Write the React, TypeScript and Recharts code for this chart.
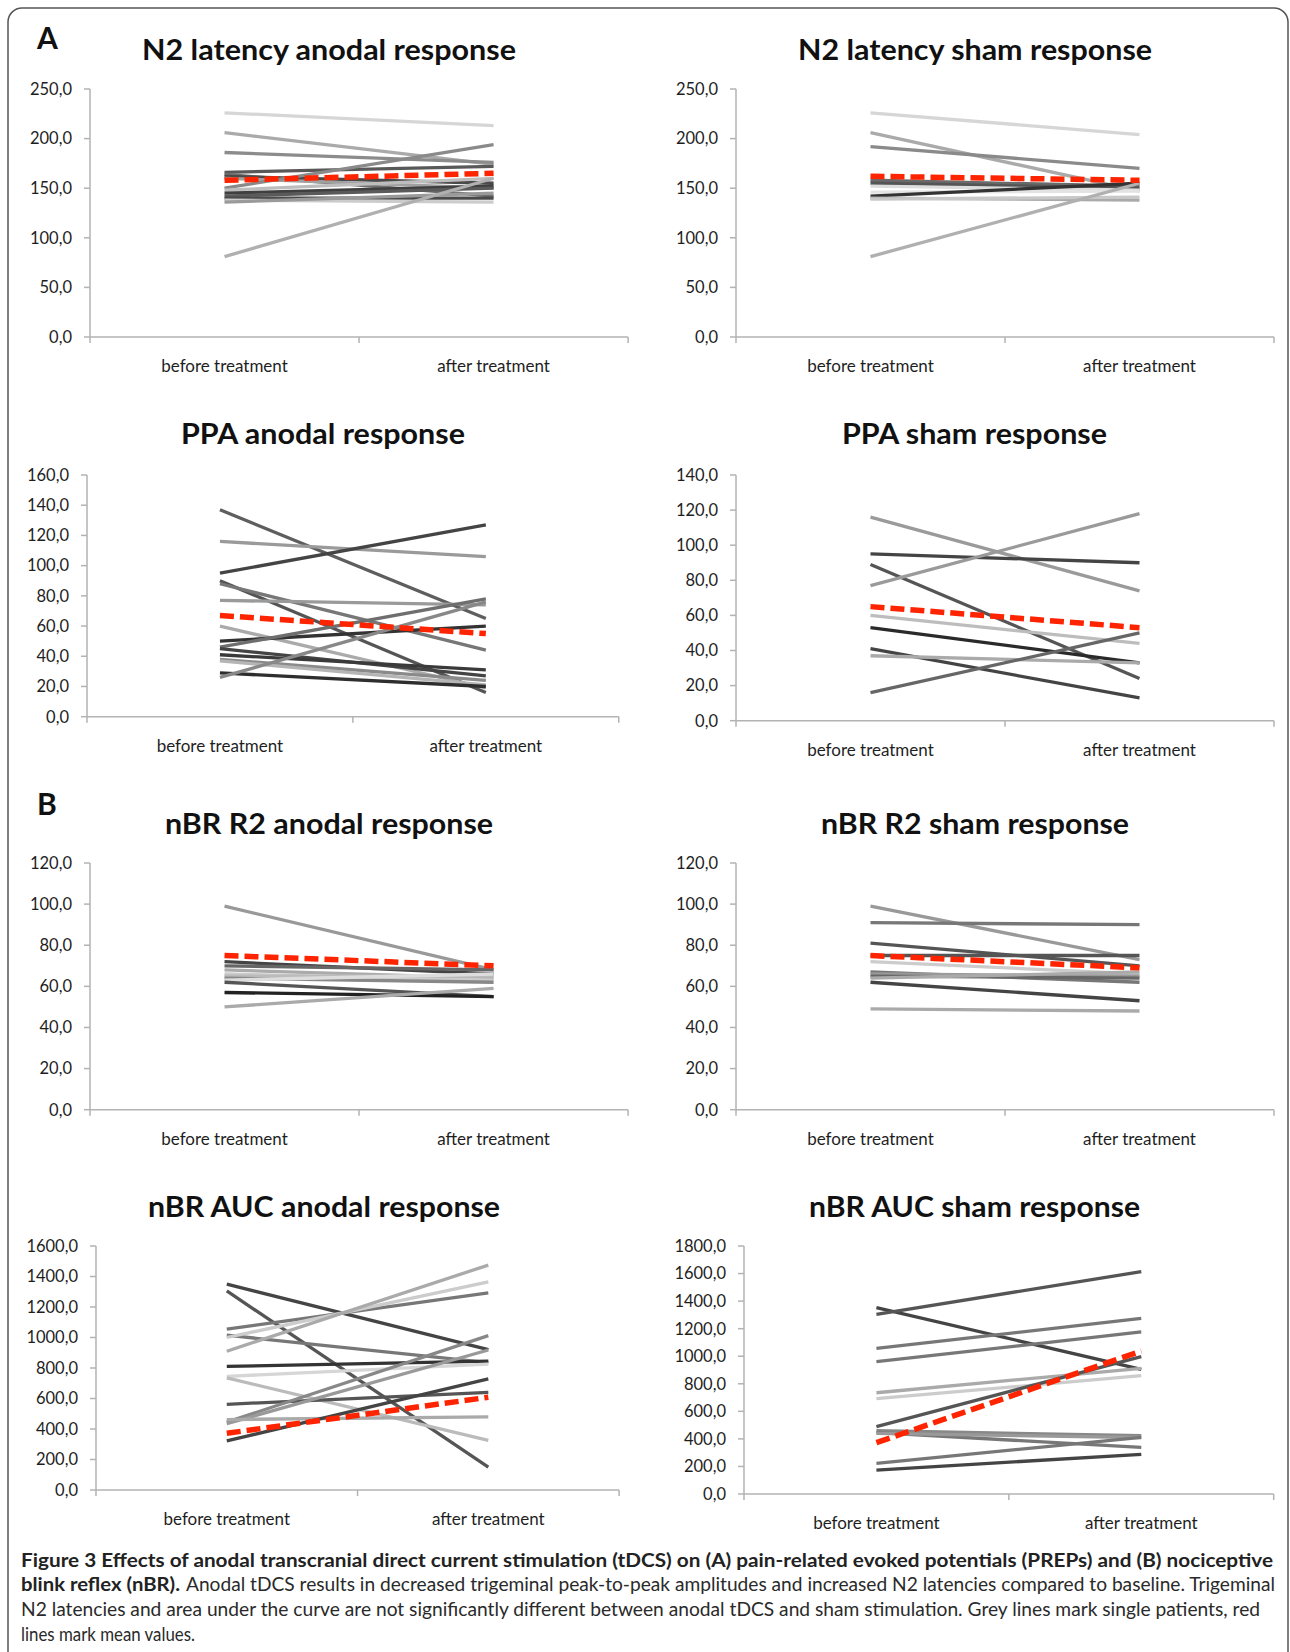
import React from 'react';
import { LineChart, Line, XAxis, YAxis } from 'recharts';

const FONT = "Lato, 'Open Sans', 'DejaVu Sans', sans-serif";
const AXIS = '#b3b3b3';
const RED = '#ff2400';

const CATEGORIES = ['before treatment', 'after treatment'];

// N2 latency anodal
const n2AnodalBefore = [226, 206, 186, 166, 164, 162, 160, 150, 148, 145, 142, 140, 138, 136, 81];
const n2AnodalAfter = [213, 174, 176, 172, 142, 155, 150, 194, 160, 152, 150, 140, 136, 145, 160];
const n2AnodalMean = [158, 165];
const n2AnodalTicks = [0, 50, 100, 150, 200, 250];

// N2 latency sham
const n2ShamBefore = [226, 206, 192, 158, 155, 152, 146, 142, 140, 139, 81];
const n2ShamAfter = [204, 147, 170, 152, 150, 148, 147, 155, 138, 141, 155];
const n2ShamMean = [162, 158];
const n2ShamTicks = [0, 50, 100, 150, 200, 250];

// PPA anodal
const ppaAnodalBefore = [137, 116, 95, 90, 88, 77, 60, 50, 46, 45, 41, 38, 37, 29, 26];
const ppaAnodalAfter = [65, 106, 127, 16, 44, 74, 19, 60, 78, 27, 31, 24, 21, 20, 76];
const ppaAnodalMean = [67, 55];
const ppaAnodalTicks = [0, 20, 40, 60, 80, 100, 120, 140, 160];

// PPA sham
const ppaShamBefore = [116, 95, 89, 77, 60, 53, 41, 37, 16];
const ppaShamAfter = [74, 90, 24, 118, 44, 33, 13, 33, 50];
const ppaShamMean = [65, 53];
const ppaShamTicks = [0, 20, 40, 60, 80, 100, 120, 140];

// nBR R2 anodal
const r2AnodalBefore = [99, 72, 70, 68, 66, 65, 64, 63, 62, 57, 50];
const r2AnodalAfter = [68, 66, 68, 64, 63, 65, 62, 66, 55, 55, 59];
const r2AnodalMean = [75, 70];
const r2AnodalTicks = [0, 20, 40, 60, 80, 100, 120];

// nBR R2 sham
const r2ShamBefore = [99, 91, 81, 75, 72, 67, 66, 65, 64, 62, 49];
const r2ShamAfter = [73, 90, 70, 75, 66, 62, 65, 64, 67, 53, 48];
const r2ShamMean = [75, 69];
const r2ShamTicks = [0, 20, 40, 60, 80, 100, 120];

// nBR AUC anodal
const aucAnodalBefore = [1350, 1305, 1055, 1015, 1000, 910, 810, 745, 735, 562, 445, 435, 462, 322];
const aucAnodalAfter = [920, 150, 1292, 835, 1365, 1475, 845, 825, 326, 640, 1012, 918, 480, 728];
const aucAnodalMean = [372, 608];
const aucAnodalTicks = [0, 200, 400, 600, 800, 1000, 1200, 1400, 1600];

// nBR AUC sham
const aucShamBefore = [1352, 1304, 1057, 960, 735, 692, 489, 460, 445, 440, 223, 174];
const aucShamAfter = [905, 1614, 1275, 1176, 912, 859, 997, 423, 339, 410, 411, 288];
const aucShamMean = [373, 1038];
const aucShamTicks = [0, 200, 400, 600, 800, 1000, 1200, 1400, 1600, 1800];

// line shades (style only)
const n2AnodalShades = ['#d6d6d6', '#aaaaaa', '#8c8c8c', '#595959', '#6e6e6e', '#4a4a4a', '#a0a0a0', '#8a8a8a', '#bdbdbd', '#3f3f3f', '#5a5a5a', '#4a4a4a', '#cccccc', '#9a9a9a', '#b0b0b0'];
const n2ShamShades = ['#d6d6d6', '#aaaaaa', '#8a8a8a', '#6a6a6a', '#555555', '#dddddd', '#e3e3e3', '#333333', '#aaaaaa', '#c8c8c8', '#b0b0b0'];
const ppaAnodalShades = ['#5e5e5e', '#9a9a9a', '#444444', '#555555', '#777777', '#9a9a9a', '#aaaaaa', '#333333', '#6e6e6e', '#444444', '#3a3a3a', '#8a8a8a', '#b5b5b5', '#2e2e2e', '#888888'];
const ppaShamShades = ['#9a9a9a', '#444444', '#555555', '#9a9a9a', '#bdbdbd', '#2a2a2a', '#444444', '#aaaaaa', '#666666'];
const r2AnodalShades = ['#999999', '#444444', '#666666', '#aaaaaa', '#cccccc', '#bbbbbb', '#888888', '#dddddd', '#555555', '#222222', '#aaaaaa'];
const r2ShamShades = ['#999999', '#777777', '#555555', '#555555', '#cccccc', '#777777', '#999999', '#666666', '#aaaaaa', '#444444', '#aaaaaa'];
const aucAnodalShades = ['#444444', '#555555', '#777777', '#777777', '#cccccc', '#aaaaaa', '#333333', '#d6d6d6', '#bbbbbb', '#555555', '#888888', '#999999', '#aaaaaa', '#444444'];
const aucShamShades = ['#444444', '#555555', '#777777', '#777777', '#aaaaaa', '#cccccc', '#555555', '#888888', '#777777', '#999999', '#777777', '#444444'];

const PANELS = [
  { title: 'N2 latency anodal response', before: n2AnodalBefore, after: n2AnodalAfter, mean: n2AnodalMean, ticks: n2AnodalTicks, shades: n2AnodalShades,
    box: { l: 89.6, r: 627.7, t: 89.3, b: 337.3 }, tb: { x1: 142, x2: 516, y: 60 } },
  { title: 'N2 latency sham response', before: n2ShamBefore, after: n2ShamAfter, mean: n2ShamMean, ticks: n2ShamTicks, shades: n2ShamShades,
    box: { l: 736, r: 1274, t: 89.3, b: 337.3 }, tb: { x1: 798, x2: 1152, y: 60 } },
  { title: 'PPA anodal response', before: ppaAnodalBefore, after: ppaAnodalAfter, mean: ppaAnodalMean, ticks: ppaAnodalTicks, shades: ppaAnodalShades,
    box: { l: 87.2, r: 619, t: 475, b: 716.7 }, tb: { x1: 181, x2: 465, y: 444 } },
  { title: 'PPA sham response', before: ppaShamBefore, after: ppaShamAfter, mean: ppaShamMean, ticks: ppaShamTicks, shades: ppaShamShades,
    box: { l: 736, r: 1274, t: 475, b: 720.7 }, tb: { x1: 842, x2: 1107, y: 444 } },
  { title: 'nBR R2 anodal response', before: r2AnodalBefore, after: r2AnodalAfter, mean: r2AnodalMean, ticks: r2AnodalTicks, shades: r2AnodalShades,
    box: { l: 89.6, r: 627.7, t: 863.3, b: 1110 }, tb: { x1: 165, x2: 493, y: 834 } },
  { title: 'nBR R2 sham response', before: r2ShamBefore, after: r2ShamAfter, mean: r2ShamMean, ticks: r2ShamTicks, shades: r2ShamShades,
    box: { l: 736, r: 1274, t: 863.3, b: 1110 }, tb: { x1: 821, x2: 1129, y: 834 } },
  { title: 'nBR AUC anodal response', before: aucAnodalBefore, after: aucAnodalAfter, mean: aucAnodalMean, ticks: aucAnodalTicks, shades: aucAnodalShades,
    box: { l: 95.9, r: 619, t: 1246, b: 1490 }, tb: { x1: 148, x2: 500, y: 1217 } },
  { title: 'nBR AUC sham response', before: aucShamBefore, after: aucShamAfter, mean: aucShamMean, ticks: aucShamTicks, shades: aucShamShades,
    box: { l: 744.3, r: 1274, t: 1246, b: 1494 }, tb: { x1: 809, x2: 1140, y: 1217 } },
];

const fmt = (v: number) => v.toFixed(1).replace('.', ',');

const CatTick = (props: any) => {
  const { x, y, payload } = props;
  const v = payload.value;
  if (Math.abs(v - Math.round(v)) < 1e-6) {
    return <line x1={x} x2={x} y1={y} y2={y + 6} stroke={AXIS} strokeWidth={1.5} />;
  }
  return (
    <text x={x} y={y + 35} textAnchor="middle" fontSize={17} fontFamily={FONT} fill="#1e1e1e">
      {CATEGORIES[Math.floor(v)]}
    </text>
  );
};

function Panel({ p }: { p: any }) {
  const AX = 82;
  const TOP = 12;
  const RIGHT = 12;
  const XH = 48;
  const chartLeft = p.box.l - AX;
  const chartTop = p.box.t - TOP;
  const width = p.box.r - chartLeft + RIGHT;
  const height = p.box.b - chartTop + XH;
  const data = [0, 1].map((i) => {
    const row: any = { x: i + 0.5, mean: p.mean[i] };
    p.before.forEach((_: number, k: number) => {
      row['p' + k] = i === 0 ? p.before[k] : p.after[k];
    });
    return row;
  });
  const max = p.ticks[p.ticks.length - 1];
  return (
    <div style={{ position: 'absolute', left: chartLeft, top: chartTop }}>
      <LineChart width={width} height={height} data={data} margin={{ top: TOP, right: RIGHT, bottom: 0, left: 0 }}>
        <XAxis
          type="number"
          dataKey="x"
          domain={[0, 2]}
          ticks={[0, 0.5, 1, 1.5, 2]}
          interval={0}
          tickLine={false}
          tickSize={0}
          tickMargin={0}
          height={XH}
          axisLine={{ stroke: AXIS, strokeWidth: 1.5 }}
          tick={CatTick}
          allowDecimals
        />
        <YAxis
          type="number"
          domain={[0, max]}
          ticks={p.ticks}
          interval={0}
          width={AX}
          tickSize={6}
          tickMargin={12}
          axisLine={{ stroke: AXIS, strokeWidth: 1.5 }}
          tickLine={{ stroke: AXIS, strokeWidth: 1.5 }}
          tick={{ fill: '#1e1e1e', fontSize: 16.5, fontFamily: FONT }}
          tickFormatter={fmt}
        />
        {p.before.map((_: number, k: number) => (
          <Line
            key={k}
            type="linear"
            dataKey={'p' + k}
            stroke={p.shades[k]}
            strokeWidth={3.3}
            dot={false}
            activeDot={false}
            isAnimationActive={false}
          />
        ))}
        <Line
          type="linear"
          dataKey="mean"
          stroke={RED}
          strokeWidth={5.5}
          strokeDasharray="14 6"
          dot={false}
          activeDot={false}
          isAnimationActive={false}
        />
      </LineChart>
    </div>
  );
}

const CAPTION_L1 = 'Figure 3 Effects of anodal transcranial direct current stimulation (tDCS) on (A) pain-related evoked potentials (PREPs) and (B) nociceptive';
const CAPTION_L2B = 'blink reflex (nBR).';
const CAPTION_L2 = 'Anodal tDCS results in decreased trigeminal peak-to-peak amplitudes and increased N2 latencies compared to baseline. Trigeminal';
const CAPTION_L3 = 'N2 latencies and area under the curve are not significantly different between anodal tDCS and sham stimulation. Grey lines mark single patients, red';
const CAPTION_L4 = 'lines mark mean values.';

export default function App() {
  return (
    <div style={{ position: 'absolute', left: 0, top: 0, width: 1290, height: 1652, background: '#fff', overflow: 'hidden' }}>
      <svg width={1290} height={1652} style={{ position: 'absolute', left: 0, top: 0 }}>
        <rect x={8} y={8} width={1280} height={1720} rx={14} ry={14} fill="none" stroke="#555" strokeWidth={1.5} />
        <text x={37} y={48.5} fontSize={30} fontWeight={700} fontFamily={FONT} fill="#111">A</text>
        <text x={37} y={815} fontSize={30} fontWeight={700} fontFamily={FONT} fill="#111">B</text>
        {PANELS.map((p, i) => (
          <text key={i} x={p.tb.x1} y={p.tb.y} textLength={p.tb.x2 - p.tb.x1} lengthAdjust="spacingAndGlyphs"
            fontSize={29} fontWeight={700} fontFamily={FONT} fill="#111">{p.title}</text>
        ))}
        <text x={21} y={1567} textLength={1252} lengthAdjust="spacingAndGlyphs" fontSize={18.5} fontWeight={700} fontFamily={FONT} fill="#222">{CAPTION_L1}</text>
        <text x={21} y={1591} textLength={159} lengthAdjust="spacingAndGlyphs" fontSize={18.5} fontWeight={700} fontFamily={FONT} fill="#222">{CAPTION_L2B}</text>
        <text x={186} y={1591} textLength={1089} lengthAdjust="spacingAndGlyphs" fontSize={18.5} fontWeight={400} fontFamily={FONT} fill="#2a2a2a">{CAPTION_L2}</text>
        <text x={21} y={1616} textLength={1239} lengthAdjust="spacingAndGlyphs" fontSize={18.5} fontWeight={400} fontFamily={FONT} fill="#2a2a2a">{CAPTION_L3}</text>
        <text x={21} y={1641} textLength={174} lengthAdjust="spacingAndGlyphs" fontSize={18.5} fontWeight={400} fontFamily={FONT} fill="#2a2a2a">{CAPTION_L4}</text>
      </svg>
      {PANELS.map((p, i) => (
        <Panel key={i} p={p} />
      ))}
    </div>
  );
}
